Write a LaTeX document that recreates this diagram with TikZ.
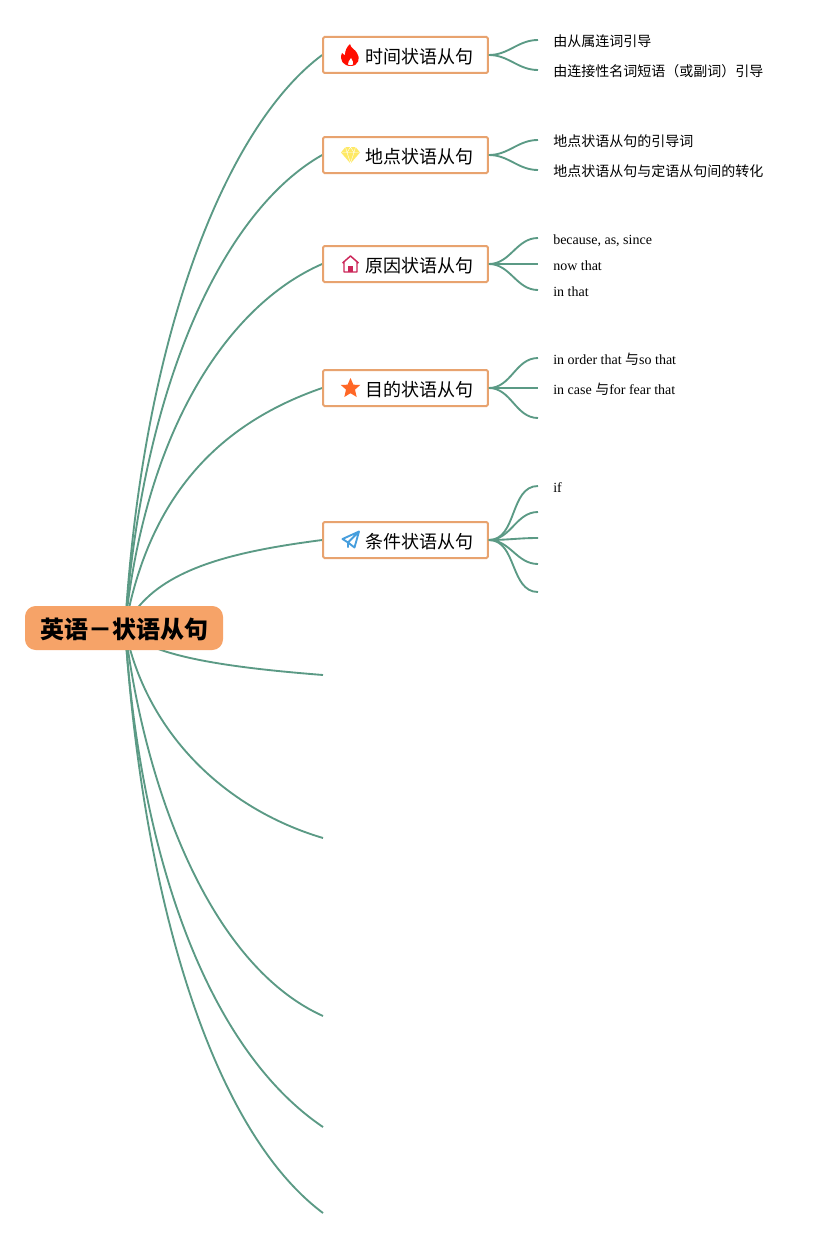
\documentclass[tikz,border=0pt]{standalone}
\usepackage{fontspec}
\setmainfont{Liberation Serif}
\newfontfamily\cjk{Noto Sans CJK SC}
\usetikzlibrary{backgrounds}
\definecolor{linkgreen}{HTML}{5B9A85}
\definecolor{boxorange}{HTML}{E8A36F}
\definecolor{rootorange}{HTML}{F6A368}

\begin{document}
\begin{tikzpicture}[x=0.75pt, y=-0.75pt,
	main/.style = {draw=boxorange, line width=1.5pt, rounded corners=1pt, fill=white, minimum width=123.5pt, minimum height=27pt, inner xsep=0pt, text height=13pt, text depth=0.5pt, font=\cjk\fontsize{13.5}{16}\selectfont, execute at begin node=\hspace*{20.5pt}},
	root/.style = {fill=rootorange, rounded corners=8pt, minimum width=148.5pt, minimum height=33pt, text height=17pt, text depth=1.9pt, font=\cjk\bfseries\fontsize{18}{22}\selectfont},
	leaf/.style = {anchor=west, inner xsep=11.25pt, inner ysep=0pt, text height=9.5pt, text depth=0pt, font=\fontsize{10.5}{12}\selectfont},
	link/.style = {draw=linkgreen, line width=1.4pt}]
	\useasboundingbox (0,0) rectangle (823,1238);
	\node[root] (root) at (124,628) {英语－状语从句};
	\coordinate (hub) at (125,628);

	\node[main] (b1) at (405.5,55) {时间状语从句};
	\node[main] (b2) at (405.5,155) {地点状语从句};
	\node[main] (b3) at (405.5,264) {原因状语从句};
	\node[main] (b4) at (405.5,388) {目的状语从句};
	\node[main] (b5) at (405.5,540) {条件状语从句};
	\coordinate (b6) at (323,675);
	\coordinate (b7) at (323,838);
	\coordinate (b8) at (323,1016);
	\coordinate (b9) at (323,1127);
	\coordinate (b10) at (323,1213);

	\node[leaf] (l11) at (538,40) {\cjk 由从属连词引导};
	\node[leaf] (l12) at (538,70) {\cjk 由连接性名词短语（或副词）引导};
	\node[leaf] (l21) at (538,140) {\cjk 地点状语从句的引导词};
	\node[leaf] (l22) at (538,170) {\cjk 地点状语从句与定语从句间的转化};
	\node[leaf] (l31) at (538,238) {because, as, since};
	\node[leaf] (l32) at (538,264) {now that};
	\node[leaf] (l33) at (538,290) {in that};
	\node[leaf] (l41) at (538,358) {in order that {\cjk 与}so that};
	\node[leaf] (l42) at (538,388) {in case {\cjk 与}for fear that};
	\coordinate (l43) at (538,418);
	\node[leaf] (l51) at (538,486) {if};
	\coordinate (l52) at (538,512);
	\coordinate (l53) at (538,538);
	\coordinate (l54) at (538,564);
	\coordinate (l55) at (538,592);

	% big curves, under the root
	\begin{pgfonlayer}{background}
		\draw[link] (hub) .. controls (143,330) and (228,125) .. (b1.west);
		\draw[link] (hub) .. controls (143,380) and (225,210) .. (b2.west);
		\draw[link] (hub) .. controls (145,430) and (228,305) .. (b3.west);
		\draw[link] (hub) .. controls (148,500) and (215,425) .. (b4.west);
		\draw[link] (hub) .. controls (152,570) and (230,552) .. (b5.west);
		\draw[link] (hub) .. controls (145,657) and (235,668) .. (b6);
		\draw[link] (hub) .. controls (145,730) and (222,808) .. (b7);
		\draw[link] (hub) .. controls (145,790) and (210,965) .. (b8);
		\draw[link] (hub) .. controls (140,860) and (209,1050) .. (b9);
		\draw[link] (hub) .. controls (143,900) and (212,1130) .. (b10);
	\end{pgfonlayer}

	\draw[link] (b1.east) to[out=0, in=180] (l11.west);
	\draw[link] (b1.east) to[out=0, in=180] (l12.west);
	\draw[link] (b2.east) to[out=0, in=180] (l21.west);
	\draw[link] (b2.east) to[out=0, in=180] (l22.west);
	\draw[link] (b3.east) to[out=0, in=180] (l31.west);
	\draw[link] (b3.east) to[out=0, in=180] (l32.west);
	\draw[link] (b3.east) to[out=0, in=180] (l33.west);
	\draw[link] (b4.east) to[out=0, in=180] (l41.west);
	\draw[link] (b4.east) to[out=0, in=180] (l42.west);
	\draw[link] (b4.east) to[out=0, in=180] (l43);
	\draw[link] (b5.east) to[out=0, in=180] (l51.west);
	\draw[link] (b5.east) to[out=0, in=180] (l52);
	\draw[link] (b5.east) to[out=0, in=180] (l53);
	\draw[link] (b5.east) to[out=0, in=180] (l54);
	\draw[link] (b5.east) to[out=0, in=180] (l55);

	% icons
	\fill[red!90!orange, shift={(350,55)}] (0,-11) .. controls (1,-6) and (5,-6) .. (7,-2) .. controls (11,3) and (8,11) .. (1,11) .. controls (-7,11) and (-11,5) .. (-8,-2) .. controls (-7,-1) and (-6,0) .. (-5,0) .. controls (-5,-5) and (-3,-8) .. (0,-11) -- cycle;
	\fill[white, shift={(350,55)}] (1,3) .. controls (2,6) and (4,7) .. (3,9.5) .. controls (2,10.5) and (-1,10.5) .. (-2,9.5) .. controls (-3,7) and (0,6) .. (1,3) -- cycle;
	\fill[yellow!80!orange!60, shift={(350.5,155)}] (-5,-8) -- (5,-8) -- (9.5,-2.5) -- (0,8.5) -- (-9.5,-2.5) -- cycle;
	\draw[white, line width=0.3pt, shift={(350.5,155)}] (-9,-2.5) -- (9,-2.5) (-3.5,-2.5) -- (0,8) -- (3.5,-2.5) (-5,-8) -- (-3.5,-2.5) -- (0,-8) -- (3.5,-2.5) -- (5,-8);
	\draw[purple!80!pink, line width=1.1pt, line join=round, shift={(350.5,264)}] (-8,-1) -- (0,-8) -- (8,-1) (-6.5,-2) -- (-6.5,8) -- (6.5,8) -- (6.5,-2);
	\fill[purple!80!pink, shift={(350.5,264)}] (-2.5,8) -- (-2.5,2) -- (2.5,2) -- (2.5,8) -- cycle;
	\fill[orange!60!red!85!white, shift={(350.5,388)}] (0,-10) -- (2.9,-3.3) -- (9.8,-3.1) -- (4.5,1.6) -- (6.2,9) -- (0,5.2) -- (-6.2,9) -- (-4.5,1.6) -- (-9.8,-3.1) -- (-2.9,-3.3) -- cycle;
	\draw[cyan!70!blue!75, line width=1.4pt, line join=round, shift={(350.5,540)}] (8.5,-8.5) -- (-8,-1) -- (-2.5,2.5) -- (4,7.5) -- cycle (8.5,-8.5) -- (-2.5,2.5) -- (-2.5,7.5);
\end{tikzpicture}
\end{document}
